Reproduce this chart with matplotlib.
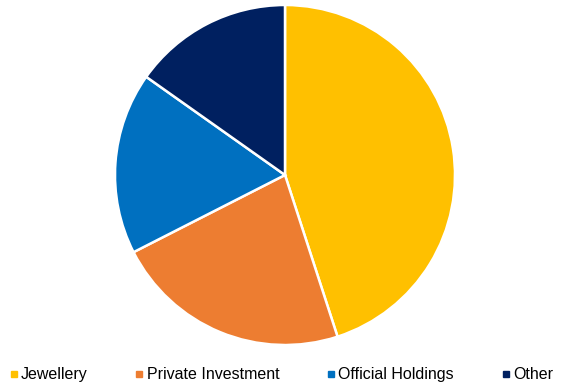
import matplotlib
matplotlib.use("Agg")
import matplotlib.pyplot as plt
from matplotlib.lines import Line2D

categories = ["Jewellery", "Private Investment", "Official Holdings", "Other"]
values = [45.0, 22.5, 17.3, 15.2]
colors = ["#FFC000", "#ED7D31", "#0070C0", "#002060"]

plt.rcParams['font.family'] = ['Liberation Sans', 'DejaVu Sans']

W, H = 585, 391
fig = plt.figure(figsize=(W / 100, H / 100), dpi=100)
cx, cy, r = 285, 175, 170
ax = fig.add_axes([(cx - r) / W, (H - cy - r) / H, 2 * r / W, 2 * r / H])
ax.pie(values, colors=colors, startangle=90, counterclock=False,
       wedgeprops=dict(edgecolor="white", linewidth=1.8))
ax.set_xlim(-1, 1)
ax.set_ylim(-1, 1)
ax.set_aspect("equal")
ax.axis("off")

handles = [Line2D([], [], marker="s", linestyle="none", markersize=4,
                  markerfacecolor=c, markeredgecolor=c) for c in colors]
fig.legend(handles, categories, loc="lower center", bbox_to_anchor=(0.481, -0.014),
           ncol=4, frameon=False, fontsize=11.5, handlelength=0.5,
           handletextpad=0.2, columnspacing=3.0)

fig.savefig("out.png", dpi=100)
